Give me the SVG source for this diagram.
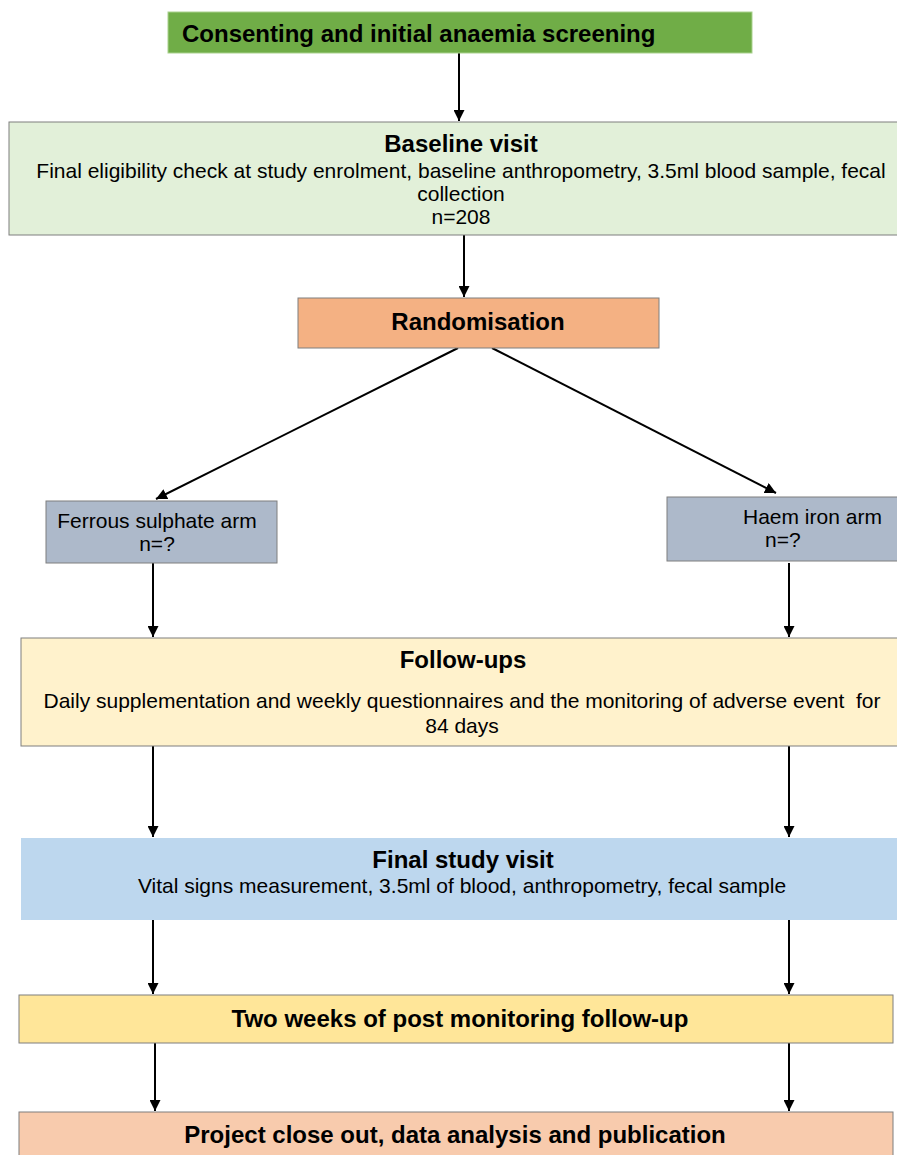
<svg xmlns="http://www.w3.org/2000/svg" width="897" height="1155" viewBox="0 0 897 1155">
<style>
text{font-family:"Liberation Sans",Arial,sans-serif;fill:#000}
.b{font-weight:bold;font-size:24px}
.r{font-size:21px}
.box{stroke:#7f7f7f;stroke-width:1}
.c{stroke:#000;stroke-width:2;fill:none;marker-end:url(#ah)}
</style>
<defs>
<marker id="ah" viewBox="0 0 10 10" refX="10" refY="5" markerWidth="5.5" markerHeight="5.5" orient="auto" markerUnits="strokeWidth">
<path d="M0,0 L10,5 L0,10 z" fill="#000"/>
</marker>
</defs>
<rect width="897" height="1155" fill="#fff"/>
<g id="connectors">
<line class="c" x1="459" y1="53" x2="459" y2="121"/>
<line class="c" x1="464" y1="235" x2="464" y2="297"/>
<line class="c" x1="458" y1="348" x2="156" y2="499"/>
<line class="c" x1="492" y1="348" x2="776" y2="493"/>
<line class="c" x1="153" y1="563" x2="153" y2="637"/>
<line class="c" x1="789" y1="563" x2="789" y2="637"/>
<line class="c" x1="153" y1="746" x2="153" y2="837"/>
<line class="c" x1="789" y1="746" x2="789" y2="837"/>
<line class="c" x1="153" y1="920" x2="153" y2="994"/>
<line class="c" x1="789" y1="920" x2="789" y2="994"/>
<line class="c" x1="155" y1="1043" x2="155" y2="1111"/>
<line class="c" x1="789" y1="1043" x2="789" y2="1111"/>
</g>
<g id="consent">
<rect x="168" y="12" width="584" height="41" fill="#70ad47" stroke="#a9d18e"/>
<text class="b" x="182" y="42">Consenting and initial anaemia screening</text>
</g>
<g id="baseline">
<rect class="box" x="9" y="122" width="895" height="113" fill="#e2f0d9"/>
<text class="b" x="461" y="152" text-anchor="middle">Baseline visit</text>
<text class="r" x="461" y="178" text-anchor="middle">Final eligibility check at study enrolment, baseline anthropometry, 3.5ml blood sample, fecal</text>
<text class="r" x="461" y="201" text-anchor="middle">collection</text>
<text class="r" x="461" y="224" text-anchor="middle">n=208</text>
</g>
<g id="randomisation">
<rect class="box" x="298" y="298" width="361" height="50" fill="#f4b183"/>
<text class="b" x="478" y="330" text-anchor="middle">Randomisation</text>
</g>
<g id="ferrous">
<rect class="box" x="46" y="501" width="231" height="62" fill="#adb9ca"/>
<text class="r" x="157" y="528" text-anchor="middle">Ferrous sulphate arm</text>
<text class="r" x="157" y="551" text-anchor="middle">n=?</text>
</g>
<g id="haem">
<rect class="box" x="667" y="497" width="235" height="64" fill="#adb9ca"/>
<text class="r" x="743" y="524">Haem iron arm</text>
<text class="r" x="765" y="547">n=?</text>
</g>
<g id="followups">
<rect class="box" x="21" y="638" width="885" height="108" fill="#fff2cc"/>
<text class="b" x="463" y="668" text-anchor="middle">Follow-ups</text>
<text class="r" x="462" y="708" text-anchor="middle" style="white-space:pre">Daily supplementation and weekly questionnaires and the monitoring of adverse event  for</text>
<text class="r" x="462" y="733" text-anchor="middle">84 days</text>
</g>
<g id="final">
<rect x="21" y="838" width="885" height="82" fill="#bdd7ee"/>
<text class="b" x="463" y="868" text-anchor="middle">Final study visit</text>
<text class="r" x="462" y="893" text-anchor="middle">Vital signs measurement, 3.5ml of blood, anthropometry, fecal sample</text>
</g>
<g id="twoweeks">
<rect class="box" x="19" y="995" width="874" height="48" fill="#ffe699"/>
<text class="b" x="460" y="1027" text-anchor="middle">Two weeks of post monitoring follow-up</text>
</g>
<g id="closeout">
<rect class="box" x="19" y="1112" width="874" height="50" fill="#f8cbad"/>
<text class="b" x="455" y="1143" text-anchor="middle">Project close out, data analysis and publication</text>
</g>
</svg>
